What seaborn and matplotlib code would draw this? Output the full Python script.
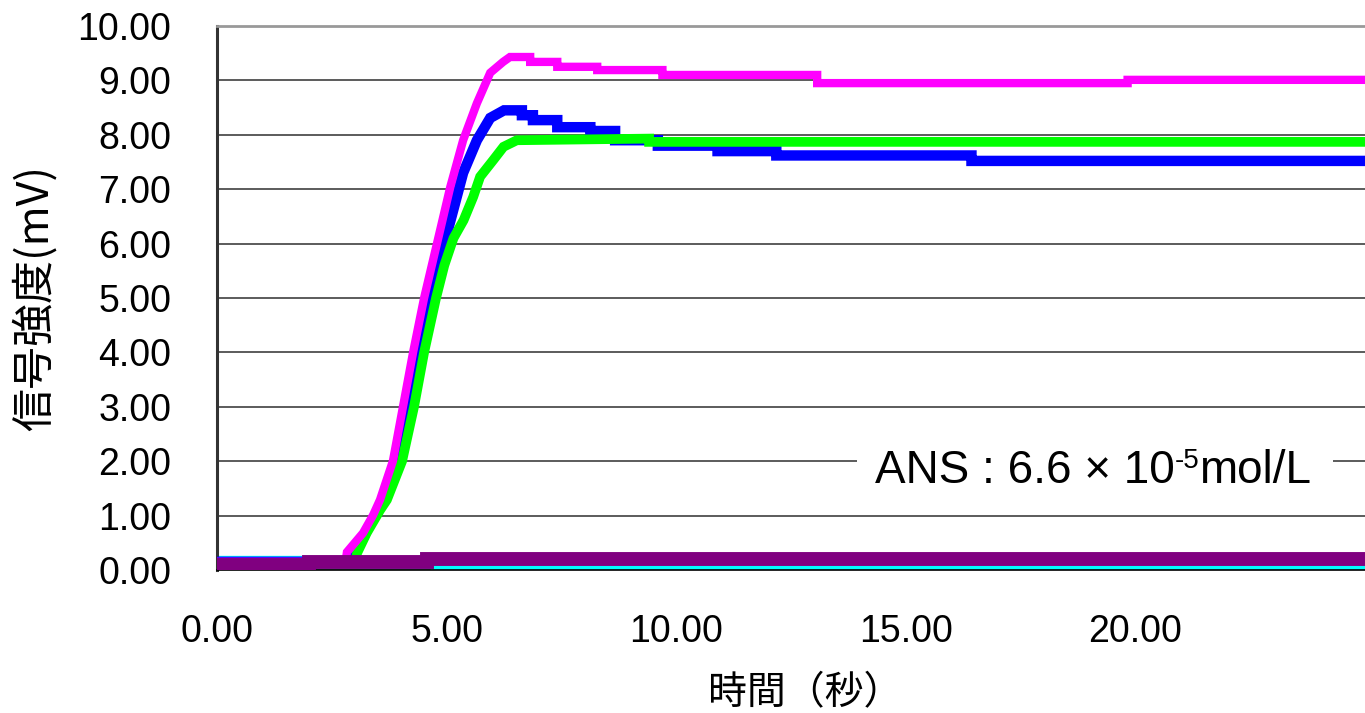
import matplotlib
matplotlib.use("Agg")
import matplotlib.pyplot as plt
from matplotlib.patches import Rectangle
import seaborn as sns
import pandas as pd

# ---- data ----
magenta_t = [0, 2.80, 2.83, 3.18, 3.40, 3.55, 3.83, 4.05, 4.27, 4.51, 4.86, 5.08, 5.36, 5.66, 5.95, 6.23,
             6.38, 6.82, 6.82, 7.41, 7.41, 8.28, 8.28, 9.70, 9.70, 13.07, 13.07, 19.83, 19.83, 25.0]
magenta_v = [0.15, 0.15, 0.33, 0.68, 1.01, 1.29, 2.00, 3.00, 4.00, 5.00, 6.25, 7.04, 7.90, 8.58, 9.14, 9.34,
             9.43, 9.43, 9.34, 9.34, 9.25, 9.25, 9.19, 9.19, 9.10, 9.10, 8.95, 8.95, 9.01, 9.01]

blue_t = [0, 2.90, 3.00, 3.62, 3.92, 4.18, 4.40, 4.64, 5.03, 5.36, 5.66, 5.95, 6.25, 6.64, 6.64, 6.88, 6.88,
          7.41, 7.41, 8.13, 8.13, 8.67, 8.67, 9.60, 9.60, 10.90, 10.90, 12.18, 12.18, 16.43, 16.43, 25.0]
blue_v = [0.15, 0.15, 0.30, 1.29, 2.00, 3.00, 4.00, 5.00, 6.25, 7.30, 7.90, 8.31, 8.45, 8.45, 8.36, 8.36, 8.27,
          8.27, 8.14, 8.14, 8.07, 8.07, 7.90, 7.90, 7.80, 7.80, 7.70, 7.70, 7.62, 7.62, 7.52, 7.52]

green_t = [0, 3.00, 3.05, 3.26, 3.55, 3.70, 4.03, 4.29, 4.51, 4.77, 4.95, 5.15, 5.37, 5.58, 5.73, 6.02, 6.24,
           6.53, 9.41, 9.41, 25.0]
green_v = [0.12, 0.12, 0.31, 0.68, 1.10, 1.29, 2.00, 3.00, 4.00, 5.00, 5.60, 6.10, 6.43, 6.86, 7.23, 7.54, 7.78,
           7.90, 7.93, 7.87, 7.87]

purple_t = [0, 2.0, 2.0, 4.57, 4.57, 25.0]
purple_v = [0.09, 0.09, 0.14, 0.14, 0.21, 0.21]

cyan_t = [0, 2.0, 2.0, 4.75, 4.75, 25.0]
cyan_v = [0.19, 0.19, 0.10, 0.10, 0.03, 0.03]

x_ticks = [0, 5, 10, 15, 20]
y_ticks = [0, 1, 2, 3, 4, 5, 6, 7, 8, 9, 10]
x_label = "時間（秒）"
y_label = "信号強度(mV)"
note_main = "ANS : 6.6 × 10"
note_exp = "-5"
note_unit = "mol/L"

# ---- style ----
sns.set_style("white")
plt.rcParams['font.family'] = ['Liberation Sans', 'Noto Sans CJK JP', 'DejaVu Sans']
for k in ['text.color', 'axes.labelcolor', 'xtick.color', 'ytick.color']:
    plt.rcParams[k] = 'black'

fig = plt.figure(figsize=(13.65, 7.13), dpi=100)
ax = fig.add_axes([217 / 1365, 1 - 570 / 713, (1365 - 217) / 1365, (570 - 26) / 713])

series = [
    (cyan_t, cyan_v, "#00FFFF", 6, 2),
    (blue_t, blue_v, "#0000FF", 7.5, 3),
    (green_t, green_v, "#00FF00", 7, 4),
    (magenta_t, magenta_v, "#FF00FF", 6, 5),
    (purple_t, purple_v, "#800080", 10, 6),
]
for t, v, c, lw, z in series:
    df = pd.DataFrame({"t": t, "v": v})
    sns.lineplot(data=df, x="t", y="v", sort=False, estimator=None, color=c,
                 linewidth=lw, ax=ax, zorder=z, solid_joinstyle='miter')

ax.set_xlim(0, 25)
ax.set_ylim(0, 10)
ax.set_xticks(x_ticks)
ax.set_yticks(y_ticks)
ax.set_xticklabels([f"{v:.2f}" for v in x_ticks], fontsize=27)
ax.set_yticklabels([f"{v:.2f}" for v in y_ticks], fontsize=27)
ax.tick_params(axis='x', length=0, pad=32)
ax.tick_params(axis='y', direction='in', length=11, width=1.2, color='#333333', pad=33)

ax.grid(axis='y', color='#404040', linewidth=1.2)
ax.grid(axis='x', visible=False)
ax.set_axisbelow(True)

ax.spines['right'].set_visible(False)
ax.spines['top'].set_color('#999999')
ax.spines['top'].set_linewidth(2)
ax.spines['left'].set_color('#333333')
ax.spines['left'].set_linewidth(2.2)
ax.spines['bottom'].set_color('black')
ax.spines['bottom'].set_linewidth(1.2)

ax.set_xlabel(x_label, fontsize=28, family=['Noto Sans CJK JP'])
ax.set_ylabel(y_label, fontsize=31, family=['Noto Sans CJK JP'])
ax.xaxis.set_label_coords(0.512, -0.19)
ax.yaxis.set_label_coords(-0.139, 0.5)

# white box behind the annotation
ax.add_patch(Rectangle((0.5575, 0.147), 0.4145, 0.092, transform=ax.transAxes,
                       facecolor='white', edgecolor='none', zorder=9))
fam = ['Liberation Sans', 'Noto Sans CJK JP']
t1 = ax.text(0.573, 0.142, note_main, transform=ax.transAxes, ha='left', va='bottom',
             fontsize=33, family=fam, zorder=10)
t2 = ax.annotate(note_exp, xy=(1.0, 0.42), xycoords=t1, ha='left', va='bottom',
                 fontsize=20, family=fam, zorder=10)
t3 = ax.annotate(note_unit, xy=(1.0, 0.0), xycoords=(t2, t1), ha='left', va='bottom',
                 fontsize=33, family=fam, zorder=10)

fig.savefig("out.png", dpi=100)
